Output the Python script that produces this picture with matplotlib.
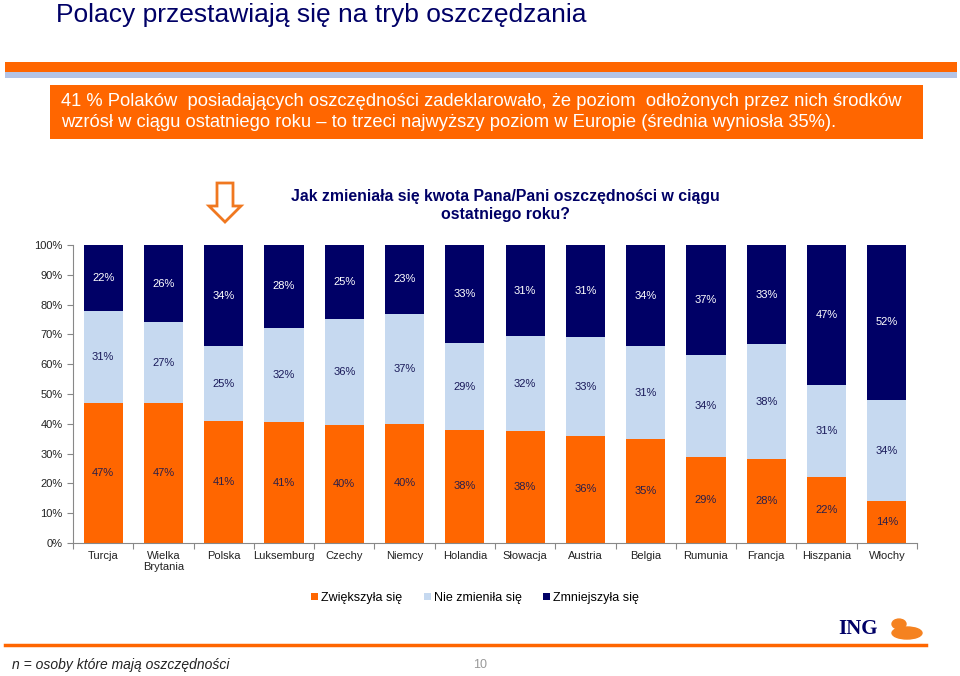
import matplotlib
matplotlib.use("Agg")
import matplotlib.pyplot as plt
from matplotlib.patches import Rectangle, Polygon, Ellipse, Circle

plt.rcParams['font.family'] = ['Liberation Sans', 'DejaVu Sans']

countries = ['Turcja', 'Wielka\nBrytania', 'Polska', 'Luksemburg', 'Czechy', 'Niemcy',
             'Holandia', 'Słowacja', 'Austria', 'Belgia', 'Rumunia', 'Francja',
             'Hiszpania', 'Włochy']
increased = [47, 47, 41, 41, 40, 40, 38, 38, 36, 35, 29, 28, 22, 14]
unchanged = [31, 27, 25, 32, 36, 37, 29, 32, 33, 31, 34, 38, 31, 34]
decreased = [22, 26, 34, 28, 25, 23, 33, 31, 31, 34, 37, 33, 47, 52]
series_names = ['Zwiększyła się', 'Nie zmieniła się', 'Zmniejszyła się']
yticks = [0, 10, 20, 30, 40, 50, 60, 70, 80, 90, 100]

ORANGE = '#FF6600'
LIGHT = '#C6D9F0'
NAVY = '#000066'

W, H = 960, 676
fig = plt.figure(figsize=(W / 100, H / 100), dpi=100)


def fx(x):
    return x / W


def fy(y):
    return 1 - y / H


# slide decorations
fig.add_artist(Rectangle((fx(5), fy(72)), fx(952), 10 / H, transform=fig.transFigure,
                         color=ORANGE, lw=0))
fig.add_artist(Rectangle((fx(5), fy(78)), fx(952), 6 / H, transform=fig.transFigure,
                         color='#B4C4E6', lw=0))
fig.text(fx(56), fy(15), 'Polacy przestawiają się na tryb oszczędzania', fontsize=19,
         color=NAVY, va='center', ha='left')

fig.add_artist(Rectangle((fx(50), fy(139)), fx(873), 54 / H, transform=fig.transFigure,
                         color=ORANGE, lw=0))
fig.text(fx(61), fy(112),
         '41 % Polaków  posiadających oszczędności zadeklarowało, że poziom  odłożonych przez nich środków\n'
         'wzrósł w ciągu ostatniego roku – to trzeci najwyższy poziom w Europie (średnia wyniosła 35%).',
         fontsize=13.2, color='white', va='center', ha='left', linespacing=1.25)

arrow = [(217, 183), (233, 183), (233, 206), (241, 206), (225, 222), (209, 206), (217, 206)]
fig.add_artist(Polygon([(fx(a), fy(b)) for a, b in arrow], closed=True, transform=fig.transFigure,
                       facecolor='white', edgecolor='#F07820', lw=2))

fig.text(fx(505), fy(205), 'Jak zmieniała się kwota Pana/Pani oszczędności w ciągu\nostatniego roku?',
         fontsize=11.4, fontweight='bold', color=NAVY, ha='center', va='center', linespacing=1.25)

# chart
ax = fig.add_axes([fx(73), fy(543), fx(844), 298 / H])
x = list(range(len(countries)))
totals = [a + b + c for a, b, c in zip(increased, unchanged, decreased)]
inc_n = [v / t * 100 for v, t in zip(increased, totals)]
unc_n = [v / t * 100 for v, t in zip(unchanged, totals)]
dec_n = [v / t * 100 for v, t in zip(decreased, totals)]
base2 = inc_n
base3 = [a + b for a, b in zip(inc_n, unc_n)]

bw = 0.65
ax.bar(x, inc_n, bw, color=ORANGE, label=series_names[0])
ax.bar(x, unc_n, bw, bottom=base2, color=LIGHT, label=series_names[1])
ax.bar(x, dec_n, bw, bottom=base3, color=NAVY, label=series_names[2])

for i in x:
    ax.text(i, inc_n[i] / 2, f'{increased[i]}%', ha='center', va='center', fontsize=8, color='#2A1F4A')
    ax.text(i, base2[i] + unc_n[i] / 2, f'{unchanged[i]}%', ha='center', va='center', fontsize=8, color='#1A1A5A')
    ax.text(i, base3[i] + dec_n[i] / 2, f'{decreased[i]}%', ha='center', va='center', fontsize=8, color='white')

ax.set_xlim(-0.5, len(countries) - 0.5)
ax.set_ylim(0, 100)
ax.set_yticks(yticks)
ax.set_yticklabels([f'{t}%' for t in yticks], fontsize=8, color='#222222')
ax.set_xticks([i - 0.5 for i in range(len(countries) + 1)], minor=False)
ax.set_xticklabels([])
ax.set_xticks(x, minor=True)
ax.set_xticklabels(countries, minor=True, fontsize=8, color='#222222', linespacing=1.1)
ax.tick_params(axis='x', which='minor', length=0, pad=6)
ax.tick_params(axis='x', which='major', length=4, color='#888888')
ax.tick_params(axis='y', length=4, color='#888888')
for s in ['top', 'right']:
    ax.spines[s].set_visible(False)
for s in ['left', 'bottom']:
    ax.spines[s].set_color('#888888')

fig.legend(loc='center', bbox_to_anchor=(fx(475), fy(598)), ncol=3, frameon=False, fontsize=9,
           handlelength=0.55, handleheight=0.55, handletextpad=0.25, columnspacing=1.7)

# footer
fig.add_artist(plt.Line2D([fx(5), fx(926)], [fy(645), fy(645)], transform=fig.transFigure,
                          color=ORANGE, lw=2.5))
fig.text(fx(858), fy(629), 'ING', fontsize=15, fontweight='bold', family='Liberation Serif',
         color=NAVY, ha='center', va='center')
fig.add_artist(Ellipse((fx(907), fy(633)), 30 / W, 12 / H, transform=fig.transFigure, color='#F58220'))
fig.add_artist(Circle((fx(899), fy(624)), 7 / W, transform=fig.transFigure, color='#F58220'))
fig.text(fx(12), fy(665), 'n = osoby które mają oszczędności', fontsize=10, style='italic',
         color='#222222', ha='left', va='center')
fig.text(fx(480), fy(665), '10', fontsize=9, color='#999999', ha='center', va='center')

fig.savefig('out.png', dpi=100)
